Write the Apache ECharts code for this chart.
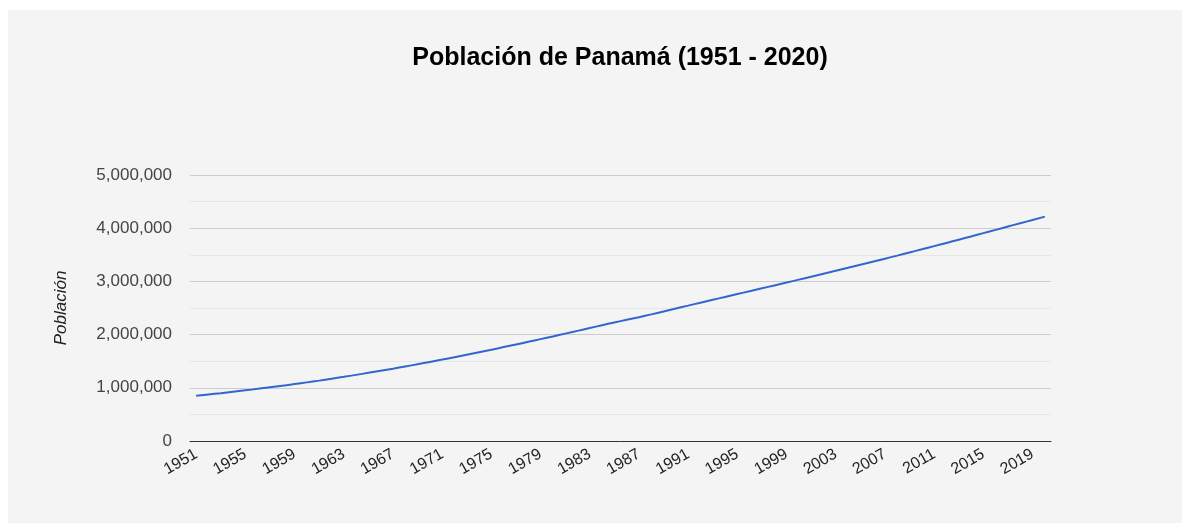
<!DOCTYPE html>
<html>
	<head>
		<meta charset="utf-8">
		<title>Población de Panamá</title>
		<script src="https://cdn.jsdelivr.net/npm/echarts@6/dist/echarts.min.js"></script>
	</head>
	<body style="margin:0;padding:0;background:#fff">
		<div id="chartPanama" style="position:absolute;left:8px;top:10px;width:1174px;height:513px;"></div>
	</body>
	<script type="text/javascript">
var years = [];
for (var y = 1951; y <= 2020; y++) years.push(String(y));

// población estimada
var poblacion = [
    850000, 874000, 899000, 925000, 952000, 980000, 1009000, 1039000, 1070000, 1102000,
    1135000, 1170000, 1206000, 1243000, 1281000, 1320000, 1360000, 1401000, 1443000, 1486000,
    1530000, 1575000, 1621000, 1668000, 1716000, 1765000, 1814000, 1864000, 1915000, 1966000,
    2018000, 2070000, 2123000, 2176000, 2228000, 2278000, 2328000, 2380000, 2435000, 2490000,
    2545000, 2600000, 2654000, 2708000, 2762000, 2816000, 2870000, 2924000, 2978000, 3033000,
    3088000, 3143000, 3199000, 3255000, 3312000, 3369000, 3427000, 3485000, 3544000, 3603000,
    3663000, 3723000, 3784000, 3845000, 3907000, 3969000, 4031000, 4093000, 4155000, 4217000
];

var titulo = 'Población de Panamá (1951 - 2020)';
var nombreEje = 'Población';

var myChart = echarts.init(document.getElementById('chartPanama'));

var option = {
    backgroundColor: '#f4f4f4',
    title: {
        text: titulo,
        left: 607,
        top: 31,
        textAlign: 'center',
        textStyle: {
            fontFamily: 'Liberation Sans, Arial',
            fontSize: 25,
            fontWeight: 'bold',
            color: '#000'
        }
    },
    grid: {
        left: 182,
        right: 131,
        top: 165,
        bottom: 82
    },
    xAxis: {
        type: 'category',
        data: years,
        boundaryGap: true,
        axisLine: { lineStyle: { color: '#333', width: 1 } },
        axisTick: { show: false },
        axisLabel: {
            interval: 3,
            rotate: 30,
            margin: 12,
            fontFamily: 'Liberation Sans, Arial',
            fontSize: 16,
            color: '#222'
        }
    },
    yAxis: {
        type: 'value',
        min: 0,
        max: 5000000,
        interval: 1000000,
        name: nombreEje,
        nameLocation: 'middle',
        nameGap: 120,
        nameTextStyle: {
            fontFamily: 'Liberation Sans, Arial',
            fontSize: 17,
            fontStyle: 'italic',
            color: '#222'
        },
        axisLine: { show: false },
        axisTick: { show: false },
        axisLabel: {
            margin: 18,
            fontFamily: 'Liberation Sans, Arial',
            fontSize: 17,
            color: '#444',
            formatter: function (v) { return v.toLocaleString('en-US'); }
        },
        splitLine: { lineStyle: { color: '#cccccc', width: 1 } },
        minorTick: { show: false, splitNumber: 2 },
        minorSplitLine: { show: true, lineStyle: { color: '#e6e6e6', width: 1 } }
    },
    series: [{
        type: 'line',
        data: poblacion,
        smooth: true,
        showSymbol: false,
        lineStyle: { color: '#3366cc', width: 2 },
        itemStyle: { color: '#3366cc' }
    }]
};
myChart.setOption(option);
	</script>
</html>
